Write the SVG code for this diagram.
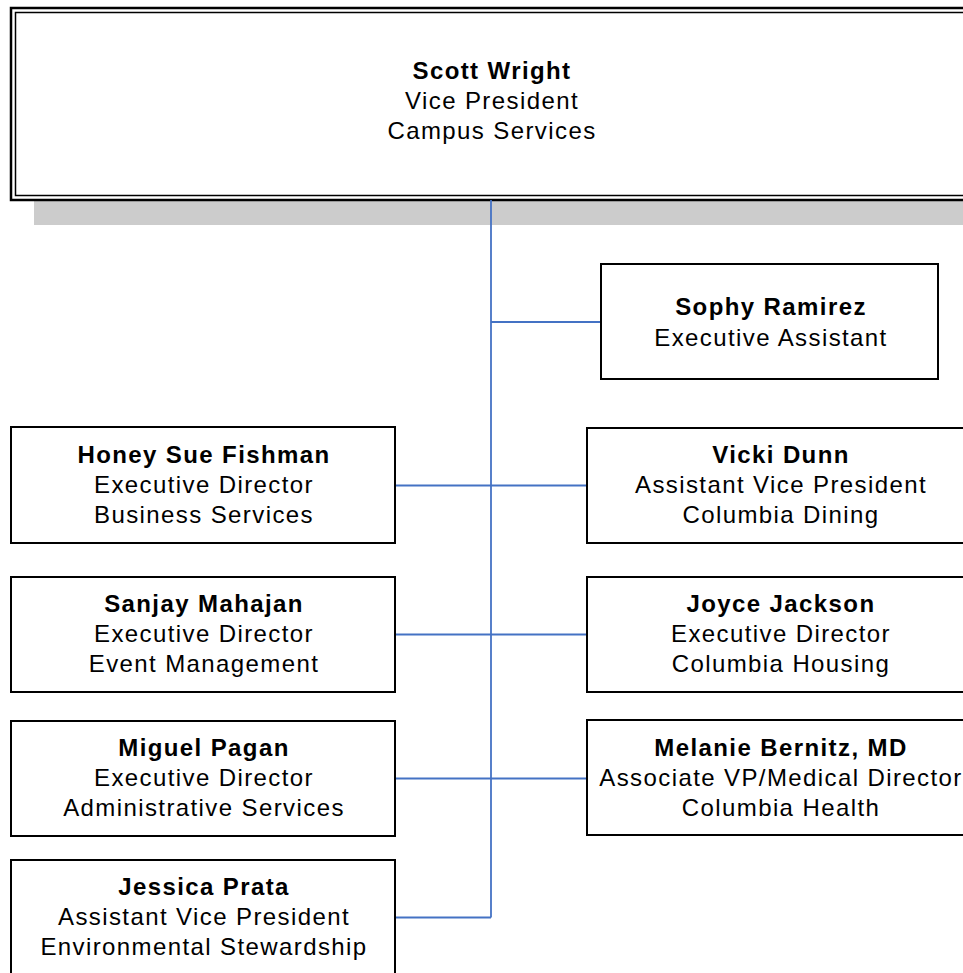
<svg xmlns="http://www.w3.org/2000/svg" width="963" height="973" viewBox="0 0 963 973">
<style>
.box{fill:#fff;stroke:#000;stroke-width:2}
.t{font-family:"Liberation Sans",Arial,sans-serif;font-size:24px;letter-spacing:1.4px;fill:#000;text-anchor:middle}
.b{font-weight:bold}
.con{stroke:#4472C4;stroke-width:1.8;fill:none}
</style>
<rect x="0" y="0" width="963" height="973" fill="#fff"/>
<g id="node-scott">
<rect x="34" y="200" width="960" height="25" fill="#cccccc"/>
<rect x="11" y="8" width="970" height="192" fill="#fff" stroke="#000" stroke-width="2.5"/>
<rect x="15.5" y="12.5" width="960" height="183" fill="none" stroke="#000" stroke-width="1.5"/>
<text class="t b" x="492" y="78.5">Scott Wright</text>
<text class="t" x="492" y="108.5">Vice President</text>
<text class="t" x="492" y="138.5">Campus Services</text>
</g>
<g id="connectors">
<line class="con" x1="491" y1="200" x2="491" y2="917.5"/>
<line class="con" x1="491" y1="322" x2="601" y2="322"/>
<line class="con" x1="395" y1="485.5" x2="587" y2="485.5"/>
<line class="con" x1="395" y1="634.5" x2="587" y2="634.5"/>
<line class="con" x1="395" y1="778.5" x2="587" y2="778.5"/>
<line class="con" x1="395" y1="917.5" x2="491" y2="917.5"/>
</g>
<g id="node-sophy">
<rect class="box" x="601" y="264" width="337" height="115"/>
<text class="t b" x="771" y="315">Sophy Ramirez</text>
<text class="t" x="771" y="345.5">Executive Assistant</text>
</g>
<g id="node-honey">
<rect class="box" x="11" y="427" width="384" height="116"/>
<text class="t b" x="204" y="462.5">Honey Sue Fishman</text>
<text class="t" x="204" y="492.5">Executive Director</text>
<text class="t" x="204" y="522.5">Business Services</text>
</g>
<g id="node-vicki">
<rect class="box" x="587" y="428" width="386" height="115"/>
<text class="t b" x="781" y="462.5">Vicki Dunn</text>
<text class="t" x="781" y="492.5">Assistant Vice President</text>
<text class="t" x="781" y="522.5">Columbia Dining</text>
</g>
<g id="node-sanjay">
<rect class="box" x="11" y="577" width="384" height="115"/>
<text class="t b" x="204" y="612">Sanjay Mahajan</text>
<text class="t" x="204" y="642">Executive Director</text>
<text class="t" x="204" y="672">Event Management</text>
</g>
<g id="node-joyce">
<rect class="box" x="587" y="577" width="386" height="115"/>
<text class="t b" x="781" y="612">Joyce Jackson</text>
<text class="t" x="781" y="642">Executive Director</text>
<text class="t" x="781" y="672">Columbia Housing</text>
</g>
<g id="node-miguel">
<rect class="box" x="11" y="721" width="384" height="115"/>
<text class="t b" x="204" y="756">Miguel Pagan</text>
<text class="t" x="204" y="786">Executive Director</text>
<text class="t" x="204" y="816">Administrative Services</text>
</g>
<g id="node-melanie">
<rect class="box" x="587" y="720" width="386" height="115"/>
<text class="t b" x="781" y="756">Melanie Bernitz, MD</text>
<text class="t" x="781" y="786">Associate VP/Medical Director</text>
<text class="t" x="781" y="816">Columbia Health</text>
</g>
<g id="node-jessica">
<rect class="box" x="11" y="860" width="384" height="115"/>
<text class="t b" x="204" y="895">Jessica Prata</text>
<text class="t" x="204" y="925">Assistant Vice President</text>
<text class="t" x="204" y="955">Environmental Stewardship</text>
</g>
</svg>
